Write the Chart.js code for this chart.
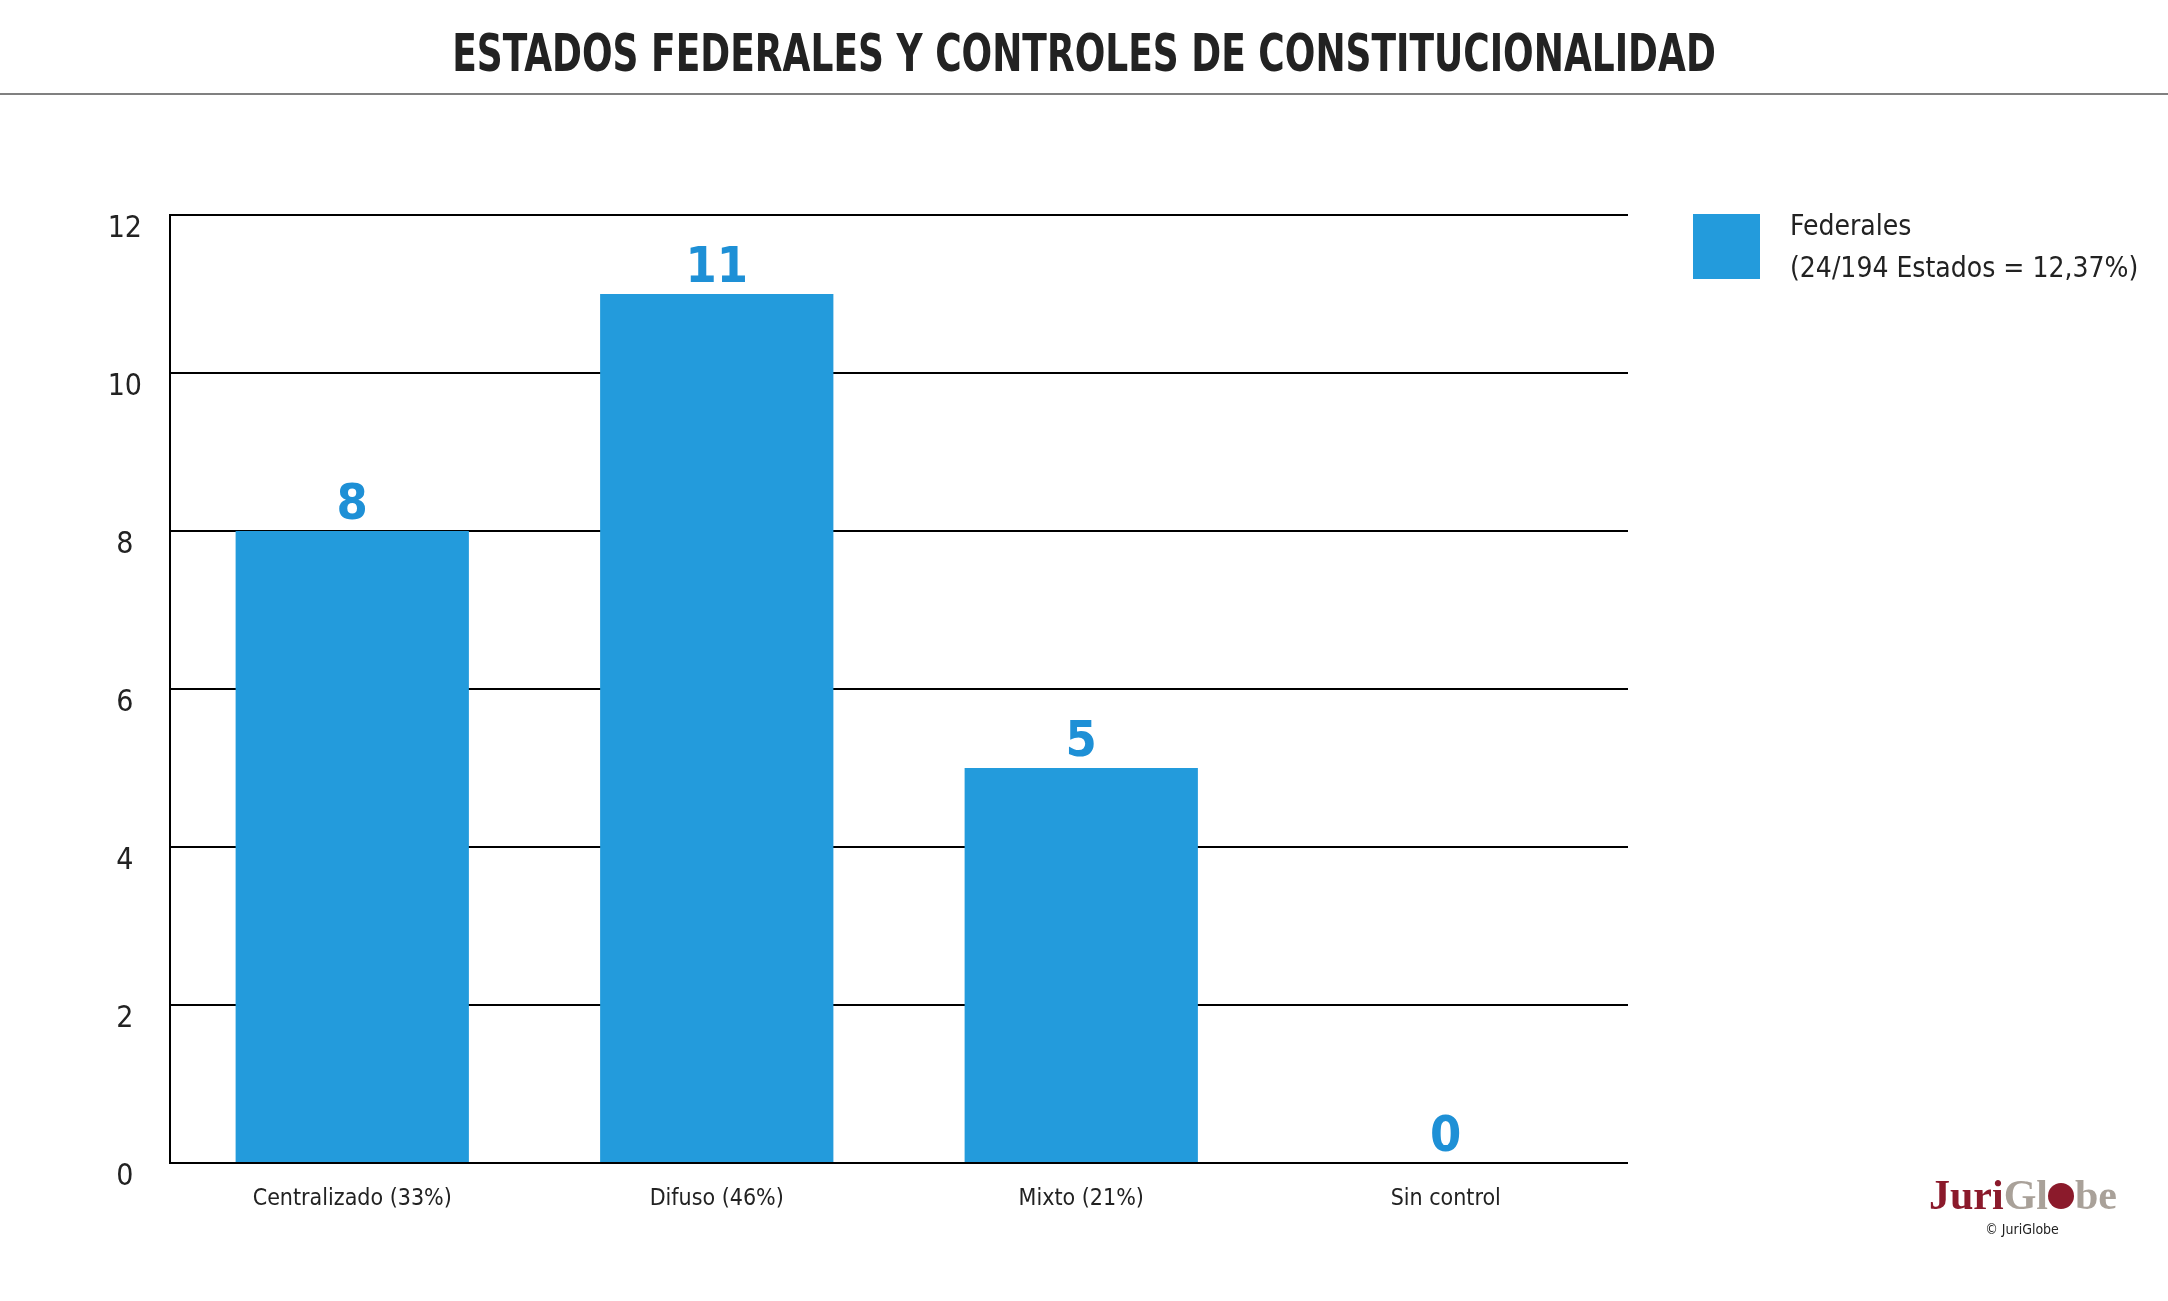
<!DOCTYPE html>
<html>
<head>
<meta charset="utf-8">
<script src="https://cdn.jsdelivr.net/npm/chart.js@4.4.1/dist/chart.umd.min.js"></script>
<style>
  html, body { margin: 0; padding: 0; background: #fff; }
  canvas { display: block; }
</style>
</head>
<body>
<canvas id="chart" width="2168" height="1301"></canvas>
<script>
// data
const categories = ["Centralizado (33%)", "Difuso (46%)", "Mixto (21%)", "Sin control"];
const federales = [8, 11, 5, 0];
const legendLines = ["Federales", "(24/194 Estados = 12,37%)"];
const chartTitle = "ESTADOS FEDERALES Y CONTROLES DE CONSTITUCIONALIDAD";

const barColor = "#239BDC";
const labelColor = "#1E90D6";
const textColor = "#222222";
const fontFam = '"Liberation Sans Narrow", "DejaVu Sans Condensed", "Roboto", sans-serif';

// title, header rule, legend box and logo
const decorations = {
  id: "decorations",
  beforeDraw(chart) {
    const ctx = chart.ctx;
    ctx.save();
    ctx.fillStyle = "#ffffff";
    ctx.fillRect(0, 0, chart.width, chart.height);

    // title is a narrow face in the original, squeeze it a bit
    ctx.save();
    ctx.translate(chart.width / 2, 71);
    ctx.scale(0.77, 1);
    ctx.fillStyle = textColor;
    ctx.font = "bold 52px " + fontFam;
    ctx.textAlign = "center";
    ctx.textBaseline = "alphabetic";
    ctx.fillText(chartTitle, 0, 0);
    ctx.restore();

    ctx.strokeStyle = "#808080";
    ctx.lineWidth = 2;
    ctx.beginPath();
    ctx.moveTo(0, 94);
    ctx.lineTo(chart.width, 94);
    ctx.stroke();
    ctx.restore();
  },
  afterDraw(chart) {
    const ctx = chart.ctx;
    ctx.save();
    // legend
    ctx.fillStyle = chart.data.datasets[0].backgroundColor;
    ctx.fillRect(1693, 214, 67, 65);
    ctx.fillStyle = textColor;
    ctx.font = "28px " + fontFam;
    ctx.textAlign = "left";
    ctx.textBaseline = "alphabetic";
    legendLines.forEach((l, i) => ctx.fillText(l, 1790, 235 + i * 42));

    // logo
    ctx.font = "bold 42px \"Liberation Serif\", \"DejaVu Serif\", serif";
    ctx.textBaseline = "alphabetic";
    let x = 1929;
    const base = 1209;
    ctx.fillStyle = "#8B1A2B";
    ctx.fillText("Juri", x, base);
    x += ctx.measureText("Juri").width;
    ctx.fillStyle = "#A9A199";
    ctx.fillText("Gl", x, base);
    x += ctx.measureText("Gl").width;
    ctx.fillStyle = "#8B1A2B";
    ctx.beginPath();
    ctx.arc(x + 13, base - 13, 13, 0, Math.PI * 2);
    ctx.fill();
    x += 27;
    ctx.fillStyle = "#A9A199";
    ctx.fillText("be", x, base);

    ctx.fillStyle = textColor;
    ctx.font = "14px " + fontFam;
    ctx.textAlign = "center";
    ctx.fillText("© JuriGlobe", 2022, 1234);
    ctx.restore();
  }
};

// value labels above the bars
const valueLabels = {
  id: "valueLabels",
  afterDatasetsDraw(chart) {
    const ctx = chart.ctx;
    const meta = chart.getDatasetMeta(0);
    ctx.save();
    ctx.fillStyle = labelColor;
    ctx.font = "bold 50px " + fontFam;
    ctx.textAlign = "center";
    ctx.textBaseline = "alphabetic";
    meta.data.forEach((bar, i) => {
      ctx.fillText(String(federales[i]), bar.x, bar.y - 12);
    });
    ctx.restore();
  }
};

new Chart(document.getElementById("chart"), {
  type: "bar",
  data: {
    labels: categories,
    datasets: [{
      label: legendLines.join(" "),
      data: federales,
      backgroundColor: barColor,
      borderWidth: 0,
      barPercentage: 0.64,
      categoryPercentage: 1
    }]
  },
  options: {
    responsive: false,
    devicePixelRatio: 1,
    animation: false,
    layout: { padding: { top: 215, left: 70, right: 540, bottom: 78 } },
    plugins: {
      legend: { display: false },
      title: { display: false },
      tooltip: { enabled: false }
    },
    scales: {
      x: {
        grid: { display: false, drawTicks: false },
        border: { display: false },
        ticks: { color: textColor, font: { family: fontFam, size: 23 }, padding: 22 },
        afterFit: (scale) => { scale.height = 60; }
      },
      y: {
        min: 0,
        max: 12,
        ticks: {
          stepSize: 2,
          color: textColor,
          font: { family: fontFam, size: 30 },
          padding: 28,
          crossAlign: "center",
          labelOffset: 14
        },
        grid: { color: "#000000", lineWidth: 2, drawTicks: false },
        border: { display: true, color: "#000000", width: 2 },
        afterFit: (scale) => { scale.width = 100; }
      }
    }
  },
  plugins: [decorations, valueLabels]
});
</script>
</body>
</html>
